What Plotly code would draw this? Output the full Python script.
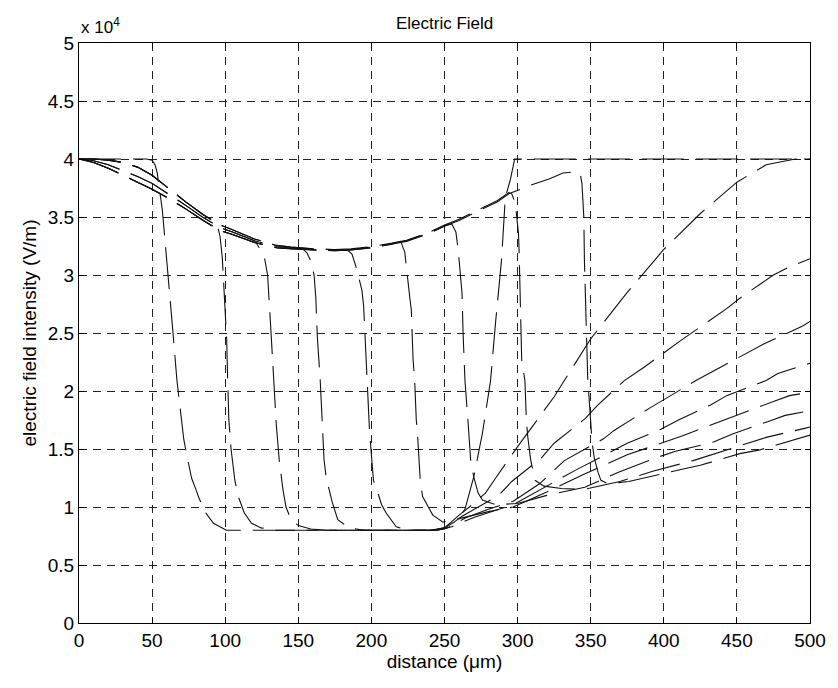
import plotly.graph_objects as go

# ---------------- data (E in units of 1e4 V/m, x in micrometres) ----------------
ENV_X = [0, 10, 20, 30, 40, 50, 60, 73, 85, 97, 105, 120, 135, 145, 160, 175, 186, 200,
         214, 224, 238, 250, 260, 273, 286, 294, 308, 322, 331, 341]
ENV_HI = [4.00, 4.00, 3.99, 3.97, 3.93, 3.86, 3.76, 3.63, 3.52, 3.43, 3.39, 3.31, 3.255, 3.24,
          3.225, 3.22, 3.225, 3.245, 3.275, 3.30, 3.36, 3.43, 3.48, 3.56, 3.64, 3.71, 3.78,
          3.84, 3.885, 3.895]
ENV_MID = [4.00, 3.985, 3.95, 3.90, 3.85, 3.79, 3.71, 3.60, 3.495, 3.405, 3.37, 3.295, 3.245,
           3.232, 3.22, 3.215, 3.22, 3.24, 3.27, 3.295, 3.355, 3.425, 3.475, 3.555, 3.635,
           3.705, 3.775, 3.835, 3.882, 3.892]
ENV_LO = [4.00, 3.97, 3.92, 3.86, 3.80, 3.74, 3.67, 3.57, 3.47, 3.38, 3.35, 3.28, 3.235, 3.225,
          3.215, 3.21, 3.215, 3.235, 3.265, 3.29, 3.35, 3.42, 3.47, 3.55, 3.63, 3.70, 3.77,
          3.83, 3.88, 3.89]

A_X = [0, 20, 40, 46, 50, 52, 53.5, 55, 57, 59.5, 61, 63, 64.3, 67, 68, 71.7, 73.7, 77, 80, 82,
       86.6, 92, 100.8, 120, 150, 200, 240, 250, 258, 264, 270, 276, 281.5, 285, 289, 291.6,
       295, 298, 350, 400, 450, 500]
A_E = [4.0, 4.0, 4.0, 4.0, 3.99, 3.95, 3.88, 3.72, 3.56, 3.2, 3.0, 2.7, 2.5, 2.09, 1.98, 1.58,
       1.45, 1.25, 1.15, 1.08, 0.95, 0.86, 0.80, 0.80, 0.80, 0.80, 0.80, 0.82, 0.88, 0.98, 1.26,
       1.64, 2.09, 2.6, 3.13, 3.67, 3.82, 4.0, 4.0, 4.0, 4.0, 4.0]

B_X = [92, 95, 96.5, 98, 99.5, 101, 101.7, 102.5, 104, 106.6, 109, 113, 118, 124.5, 135, 200,
       240, 250, 260, 270, 278, 285, 300, 325, 350, 375, 400, 425, 450, 470, 490, 500]
B_E = [3.46, 3.41, 3.33, 3.15, 2.85, 2.45, 2.09, 1.75, 1.5, 1.23, 1.09, 0.95, 0.86, 0.82, 0.80,
       0.80, 0.80, 0.82, 0.93, 1.03, 1.12, 1.25, 1.52, 1.95, 2.45, 2.85, 3.22, 3.53, 3.80, 3.95,
       4.0, 4.0]

C_X = [121, 124, 127, 129, 131, 133, 135, 137, 139.5, 141.6, 145, 150, 158.5, 170, 240, 250,
       262, 287, 296, 316, 325, 346, 355, 373, 386, 411, 443, 452, 475, 486, 500]
C_E = [3.28, 3.22, 3.14, 3.0, 2.58, 2.09, 1.7, 1.4, 1.15, 1.0, 0.89, 0.84, 0.81, 0.80, 0.80,
       0.81, 0.92, 1.10, 1.22, 1.42, 1.55, 1.76, 1.88, 2.09, 2.2, 2.43, 2.71, 2.8, 3.0, 3.07,
       3.14]

D_X = [153, 156, 158.5, 160.8, 162, 163, 165, 166.5, 167.6, 169, 173, 177, 185, 195, 245, 252,
       265, 280, 297, 315, 332, 359, 366, 390, 410, 422, 469, 495, 500]
D_E = [3.225, 3.19, 3.12, 3.0, 2.8, 2.47, 2.09, 1.7, 1.41, 1.26, 1.05, 0.89, 0.82, 0.80, 0.80,
       0.82, 0.91, 0.98, 1.05, 1.2, 1.40, 1.59, 1.66, 1.85, 2.0, 2.09, 2.41, 2.56, 2.6]

E_X = [181, 184, 186.7, 190, 193.5, 194.7, 196.9, 198, 198.7, 200, 201.4, 203.7, 207, 210,
       217, 225, 245, 255, 270, 297, 320, 340, 360, 375, 398, 410, 432, 443, 470, 478, 500]
E_E = [3.215, 3.21, 3.18, 3.05, 2.87, 2.73, 2.09, 1.81, 1.66, 1.45, 1.23, 1.15, 1.02, 0.95,
       0.83, 0.80, 0.80, 0.83, 0.91, 1.02, 1.18, 1.32, 1.45, 1.55, 1.67, 1.75, 1.88, 1.96, 2.09,
       2.15, 2.24]

F_X = [220, 222.8, 226.2, 227.3, 228.5, 229.6, 230.7, 231.4, 233.4, 235, 242, 249, 260, 280,
       297, 320, 345, 375, 412, 439, 449, 475, 486, 500]
F_E = [3.29, 3.2, 2.81, 2.7, 2.27, 2.09, 1.75, 1.66, 1.23, 1.09, 0.93, 0.87, 0.90, 0.96, 1.0,
       1.13, 1.28, 1.45, 1.61, 1.74, 1.79, 1.91, 1.96, 1.99]

G_X = [255, 257.8, 259.5, 261, 262, 262.7, 263.4, 264, 266, 268, 270, 273, 276, 285, 300, 320,
       346, 369, 396, 408, 434, 447, 472, 483, 500]
G_E = [3.44, 3.37, 3.2, 3.0, 2.84, 2.5, 2.33, 2.09, 1.75, 1.39, 1.26, 1.12, 1.06, 1.02, 1.03,
       1.1, 1.17, 1.30, 1.43, 1.48, 1.56, 1.63, 1.74, 1.79, 1.83]

H_X = [296, 298.4, 300, 300.6, 301, 301.8, 302.4, 302.8, 305, 306, 307, 309, 312, 318, 330, 345,
       370, 393, 420, 440, 470, 497, 500]
H_E = [3.70, 3.62, 3.45, 3.36, 3.22, 2.81, 2.67, 2.27, 2.09, 1.75, 1.6, 1.4, 1.23, 1.18, 1.16,
       1.15, 1.22, 1.31, 1.40, 1.48, 1.60, 1.68, 1.69]

I_X = [343, 344, 344.6, 345.3, 345.7, 346, 346.9, 347.5, 348, 349, 350.2, 351, 352.5, 355, 357,
       362, 376, 386, 414, 425, 452, 465, 491, 500]
I_E = [3.86, 3.79, 3.63, 3.5, 3.13, 2.98, 2.55, 2.44, 2.09, 1.92, 1.66, 1.55, 1.42, 1.3, 1.23,
       1.2, 1.22, 1.25, 1.33, 1.36, 1.46, 1.49, 1.59, 1.62]

SNAPSHOTS = [
    (None, A_X, A_E),
    (ENV_HI, B_X, B_E),
    (ENV_MID, C_X, C_E),
    (ENV_LO, D_X, D_E),
    (ENV_HI, E_X, E_E),
    (ENV_LO, F_X, F_E),
    (ENV_MID, G_X, G_E),
    (ENV_HI, H_X, H_E),
    (ENV_LO, I_X, I_E),
]

X_TICKS = [0, 50, 100, 150, 200, 250, 300, 350, 400, 450, 500]
Y_TICKS = [0, 0.5, 1, 1.5, 2, 2.5, 3, 3.5, 4, 4.5, 5]
Y_TICK_TEXT = ["0", "0.5", "1", "1.5", "2", "2.5", "3", "3.5", "4", "4.5", "5"]

# ---------------- figure ----------------
FONT = "Liberation Sans, Arial, Helvetica, sans-serif"
fig = go.Figure()
for env, fx, fe in SNAPSHOTS:
    if env is None:
        xs, es = list(fx), list(fe)
    else:
        xs = [x for x in ENV_X if x < fx[0]] + list(fx)
        es = [e for x, e in zip(ENV_X, env) if x < fx[0]] + list(fe)
    fig.add_trace(go.Scatter(
        x=xs, y=es, mode="lines", showlegend=False, hoverinfo="skip",
        line=dict(color="#111111", width=1.1, dash="42px,12px"),
    ))

axis_common = dict(
    showline=True, linecolor="black", linewidth=1, mirror="allticks",
    ticks="inside", ticklen=5, tickcolor="black",
    showgrid=True, gridcolor="#222222", gridwidth=0.9, griddash="8px,6px",
    zeroline=False, tickfont=dict(family=FONT, size=19, color="black"),
)

fig.update_layout(
    width=838, height=688,
    margin=dict(l=79, r=20, t=43, b=65),
    paper_bgcolor="white", plot_bgcolor="white",
    font=dict(family=FONT, color="black"),
    xaxis=dict(range=[0, 500], tickvals=X_TICKS, **axis_common,
               title=dict(text="distance (\u03bcm)", font=dict(family=FONT, size=19), standoff=4)),
    yaxis=dict(range=[0, 5], tickvals=Y_TICKS, ticktext=Y_TICK_TEXT, **axis_common,
               title=dict(text="electric field intensity (V/m)", font=dict(family=FONT, size=19),
                          standoff=6)),
    annotations=[
        dict(text="Electric Field", xref="paper", yref="paper", x=0.5, y=1, yshift=20,
             showarrow=False, font=dict(family=FONT, size=17, color="black"),
             xanchor="center", yanchor="middle"),
        dict(text="x 10<sup>4</sup>", xref="paper", yref="paper", x=0, y=1, yshift=17,
             showarrow=False, font=dict(family=FONT, size=17, color="black"),
             xanchor="left", yanchor="middle"),
    ],
)

fig.write_html("out.html")
